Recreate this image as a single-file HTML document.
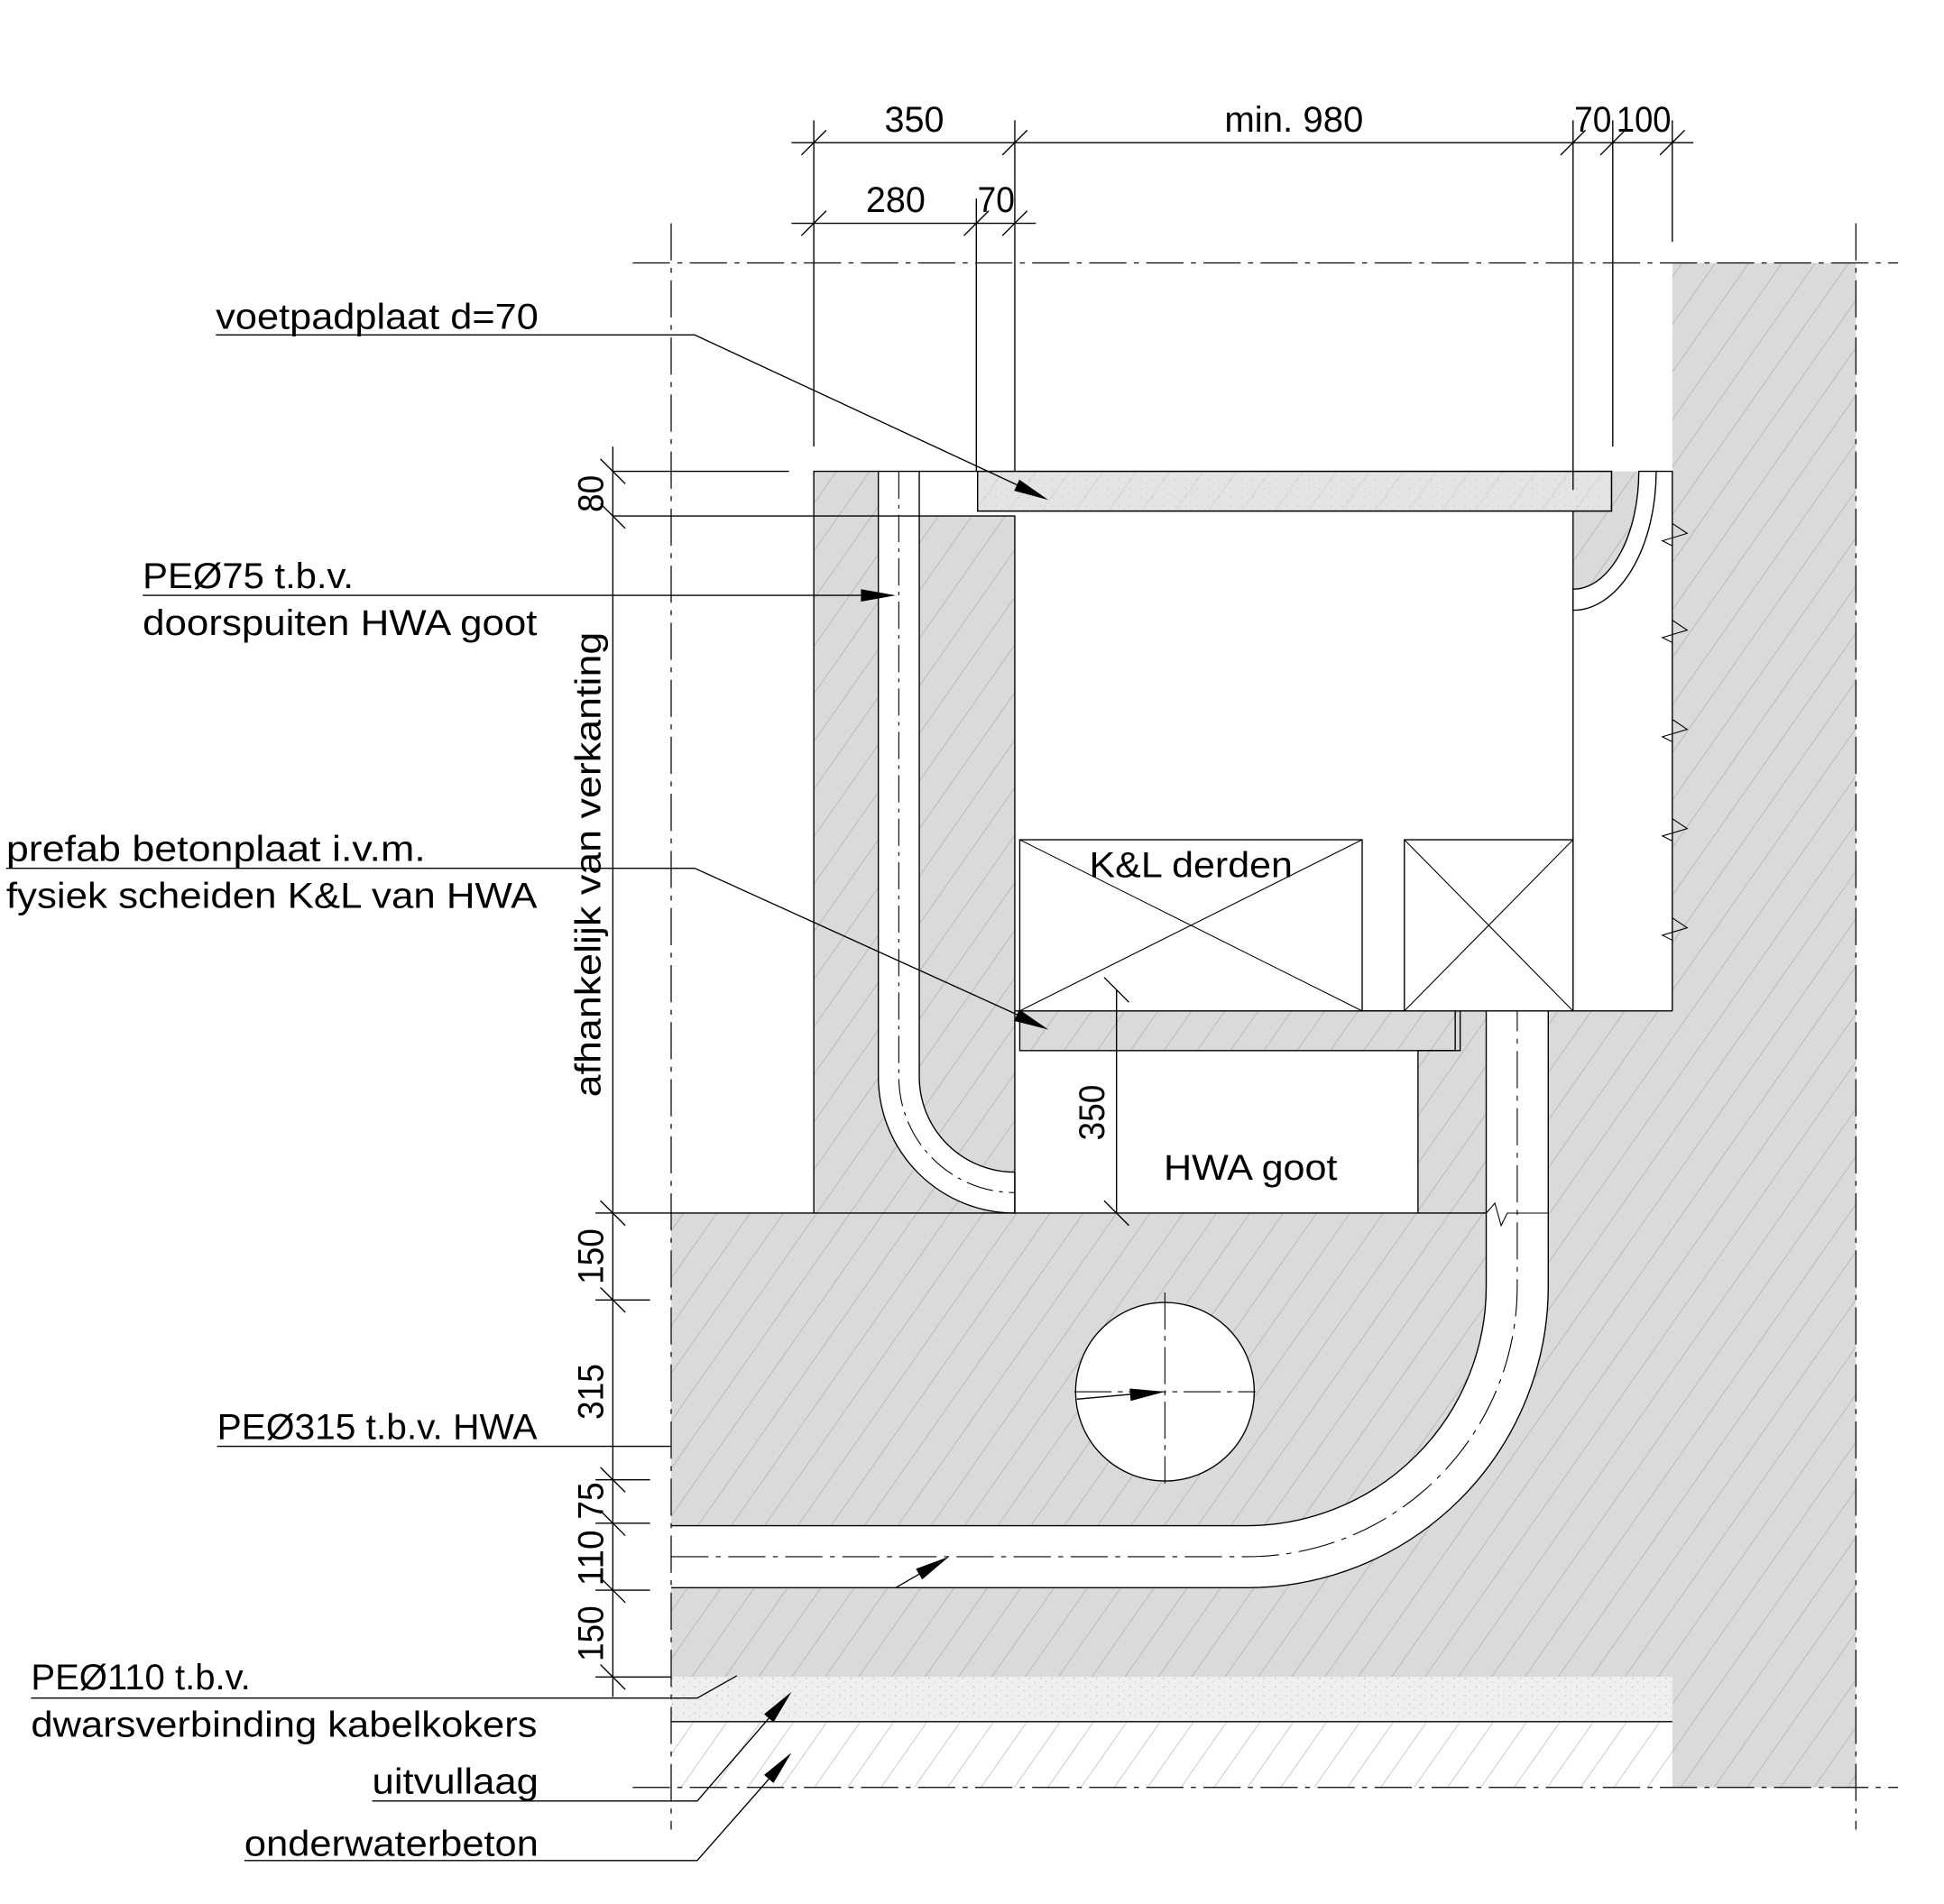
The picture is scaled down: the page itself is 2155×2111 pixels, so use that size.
<!DOCTYPE html>
<html><head><meta charset="utf-8"><style>
html,body{margin:0;padding:0;background:#fff;}
svg{display:block;}
text{font-family:"Liberation Sans Narrow","Liberation Sans",sans-serif;fill:#000;}
</style></head><body>
<svg width="2155" height="2111" viewBox="0 0 1567 1535" preserveAspectRatio="none" xmlns="http://www.w3.org/2000/svg">
<defs>
<pattern id="h" patternUnits="userSpaceOnUse" width="22" height="22" patternTransform="rotate(35)">
<rect width="22" height="22" fill="#dadada"/>
<line x1="0" y1="0" x2="0" y2="22" stroke="#a9a9a9" stroke-width="1"/>
</pattern>
<pattern id="hw" patternUnits="userSpaceOnUse" width="22" height="22" patternTransform="rotate(35)">
<rect width="22" height="22" fill="#fff"/>
<line x1="0" y1="0" x2="0" y2="22" stroke="#b5b5b5" stroke-width="1"/>
</pattern>
<pattern id="dt" patternUnits="userSpaceOnUse" width="9" height="7">
<rect width="9" height="7" fill="#efefef"/>
<circle cx="2" cy="2" r="0.6" fill="#bbb"/><circle cx="6" cy="5" r="0.5" fill="#ccc"/>
</pattern>
</defs>
<g stroke="#000" stroke-width="1" fill="none">
<rect x="1348" y="212" width="148" height="1229" fill="url(#h)" stroke="none"/>
<rect x="656" y="380" width="162" height="598" fill="url(#h)" stroke="none"/>
<rect x="741" y="380" width="77" height="36" fill="#fff" stroke="none"/>
<rect x="541" y="978" width="807" height="374" fill="url(#h)" stroke="none"/>
<rect x="1143" y="815" width="205" height="163" fill="url(#h)" stroke="none"/>
<path d="M1268,412 L1299,412 L1299,380 L1321,380 A53,95 0 0 1 1268,475 Z" fill="url(#h)" stroke="none"/>
<path d="M708,380 L708,868 A110,110 0 0 0 818,978 L818,945 A77,77 0 0 1 741,868 L741,380 Z" fill="#fff" stroke="#000"/>
<path d="M724.5,380 L724.5,868 A93.5,93.5 0 0 0 818,961.5" stroke-dasharray="22,5,3,5" stroke-width="0.8"/>
<path d="M1321,380 A53,95 0 0 1 1268,475 L1268,492 A67,112 0 0 0 1335,380 Z" fill="#fff" stroke="#000"/>
<path d="M541,1230 L1005,1230 A193,193 0 0 0 1198,1037 L1198,815 L1248,815 L1248,1037 A243,243 0 0 1 1005,1280 L541,1280 Z" fill="#fff" stroke="none"/>
<path d="M541,1230 L1005,1230 A193,193 0 0 0 1198,1037 L1198,815 M1248,815 L1248,1037 A243,243 0 0 1 1005,1280 L541,1280"/>
<path d="M541,1255 L1005,1255 A218,218 0 0 0 1223,1037 L1223,815" stroke-dasharray="30,6,4,6" stroke-width="0.8"/>
<circle cx="939" cy="1122" r="72" fill="#fff"/>
<line x1="939" y1="1042" x2="939" y2="1196" stroke-dasharray="30,5,4,5" stroke-width="0.8"/>
<line x1="866" y1="1122" x2="1012" y2="1122" stroke-dasharray="30,5,4,5" stroke-width="0.8"/>
<line x1="868" y1="1128" x2="912" y2="1124"/>
<polygon points="939,1122 911.4,1129.4 910.6,1119.4" fill="#000" stroke="none"/>
<rect x="788" y="380" width="511" height="32" fill="url(#dt)"/>
<rect x="788" y="380" width="511" height="32" fill="url(#h)" fill-opacity="0.5"/>
<rect x="822" y="815" width="351" height="32" fill="url(#h)"/>
<path d="M1173,815 L1177,815 L1177,847 L1143,847"/>
<path d="M656,978 L656,380 L708,380 M741,380 L788,380 M741,416 L818,416 L818,978 M1143,847 L1143,978 L1198,978 M541,978 L1143,978"/>
<path d="M1268,412 L1268,815 L1348,815 M1335,380 L1348,380 L1348,815 M818,815 L1143,815"/>
<path d="M1198,978 L1205,970 L1210,988 L1215,978 L1248,978" stroke-width="0.8"/>
<rect x="822" y="677" width="276" height="138" fill="#fff"/>
<path d="M822,677 L1098,815 M1098,677 L822,815" stroke-width="0.8"/>
<rect x="1132" y="677" width="136" height="138" fill="#fff"/>
<path d="M1132,677 L1268,815 M1268,677 L1132,815" stroke-width="0.8"/>
<rect x="541" y="1352" width="807" height="36" fill="url(#dt)" stroke="none"/>
<rect x="541" y="1388" width="807" height="53" fill="url(#hw)" stroke="none"/>
<line x1="541" y1="1388" x2="1348" y2="1388"/>
<g stroke-dasharray="30,6,4,6" stroke-width="0.9">
<line x1="510" y1="212" x2="1530" y2="212"/>
<line x1="510" y1="1441" x2="1530" y2="1441"/>
<line x1="541" y1="180" x2="541" y2="1475"/>
<line x1="1496" y1="180" x2="1496" y2="1475"/>
</g>
<g stroke-width="0.8">
<path d="M1348,422 L1360,430 L1340,436 L1348,440"/>
<path d="M1348,500 L1360,508 L1340,514 L1348,518"/>
<path d="M1348,580 L1360,588 L1340,594 L1348,598"/>
<path d="M1348,660 L1360,668 L1340,674 L1348,678"/>
<path d="M1348,740 L1360,748 L1340,754 L1348,758"/>
</g>
<line x1="638" y1="115" x2="1365" y2="115"/>
<line x1="638" y1="180" x2="835" y2="180"/>
<path d="M656,97 L656,360 M818,97 L818,380 M787,160 L787,380 M1268,97 L1268,395 M1300,97 L1300,360 M1348,97 L1348,195"/>
<path d="M646,125 L666,105 M808,125 L828,105 M1258,125 L1278,105 M1290,125 L1310,105 M1338,125 L1358,105 M646,190 L666,170 M777,190 L797,170 M808,190 L828,170"/>
<line x1="494" y1="360" x2="494" y2="1368"/>
<path d="M494,380 L636,380 M494,416 L741,416 M480,978 L541,978 M480,1048 L524,1048 M480,1193 L524,1193 M480,1228 L524,1228 M480,1282 L524,1282 M480,1352 L541,1352"/>
<path d="M484,370 L504,390 M484,406 L504,426 M484,968 L504,988 M484,1038 L504,1058 M484,1183 L504,1203 M484,1218 L504,1238 M484,1272 L504,1292 M484,1342 L504,1362"/>
<line x1="900" y1="798" x2="900" y2="978"/>
<path d="M890,788 L910,808 M890,968 L910,988"/>
<path d="M174,270 L560,270 L820,391"/>
<polygon points="845,403 817.5,395.7 821.7,386.7" fill="#000" stroke="none"/>
<path d="M115,480 L694,480"/>
<polygon points="722,480 694,475 694,485" fill="#000" stroke="none"/>
<path d="M5,700 L560,700 L820,818"/>
<polygon points="845,830 817.4,823 821.6,813.9" fill="#000" stroke="none"/>
<path d="M175,1166 L541,1166"/>
<path d="M722,1280 L741,1269"/>
<polygon points="765,1255 743.3,1273.4 738.3,1264.8" fill="#000" stroke="none"/>
<path d="M25,1369 L562,1369 L594,1351"/>
<path d="M300,1452 L562,1452 L620,1385"/>
<polygon points="638,1364 623.5,1388.5 615.9,1381.9" fill="#000" stroke="none"/>
<path d="M197,1500 L562,1500 L620,1434"/>
<polygon points="638,1413 623.5,1437.5 615.9,1430.9" fill="#000" stroke="none"/>
</g>
<g font-size="29">
<text x="737" y="106" text-anchor="middle" textLength="48" lengthAdjust="spacingAndGlyphs">350</text>
<text x="1043" y="106" text-anchor="middle" textLength="112" lengthAdjust="spacingAndGlyphs">min. 980</text>
<text x="1284" y="106" text-anchor="middle" textLength="30" lengthAdjust="spacingAndGlyphs">70</text>
<text x="1325" y="106" text-anchor="middle" textLength="44" lengthAdjust="spacingAndGlyphs">100</text>
<text x="722" y="171" text-anchor="middle" textLength="48" lengthAdjust="spacingAndGlyphs">280</text>
<text x="803" y="171" text-anchor="middle" textLength="30" lengthAdjust="spacingAndGlyphs">70</text>
<text x="174" y="265" textLength="260" lengthAdjust="spacingAndGlyphs">voetpadplaat d=70</text>
<text x="115" y="474" textLength="170" lengthAdjust="spacingAndGlyphs">PEØ75 t.b.v.</text>
<text x="115" y="512" textLength="318" lengthAdjust="spacingAndGlyphs">doorspuiten HWA goot</text>
<text x="5" y="694" textLength="338" lengthAdjust="spacingAndGlyphs">prefab betonplaat i.v.m.</text>
<text x="5" y="732" textLength="428" lengthAdjust="spacingAndGlyphs">fysiek scheiden K&amp;L van HWA</text>
<text x="175" y="1160" textLength="258" lengthAdjust="spacingAndGlyphs">PEØ315 t.b.v. HWA</text>
<text x="25" y="1362" textLength="177" lengthAdjust="spacingAndGlyphs">PEØ110 t.b.v.</text>
<text x="25" y="1400" textLength="408" lengthAdjust="spacingAndGlyphs">dwarsverbinding kabelkokers</text>
<text x="300" y="1446" textLength="134" lengthAdjust="spacingAndGlyphs">uitvullaag</text>
<text x="197" y="1496" textLength="237" lengthAdjust="spacingAndGlyphs">onderwaterbeton</text>
<text x="960" y="707" text-anchor="middle" textLength="164" lengthAdjust="spacingAndGlyphs">K&amp;L derden</text>
<text x="1008" y="951" text-anchor="middle" textLength="140" lengthAdjust="spacingAndGlyphs">HWA goot</text>
<text transform="translate(484,697) rotate(-90)" text-anchor="middle" textLength="375" lengthAdjust="spacingAndGlyphs">afhankelijk van verkanting</text>
<text transform="translate(486,398) rotate(-90)" text-anchor="middle" textLength="30" lengthAdjust="spacingAndGlyphs">80</text>
<text transform="translate(486,1013) rotate(-90)" text-anchor="middle" textLength="45" lengthAdjust="spacingAndGlyphs">150</text>
<text transform="translate(486,1122) rotate(-90)" text-anchor="middle" textLength="45" lengthAdjust="spacingAndGlyphs">315</text>
<text transform="translate(486,1210) rotate(-90)" text-anchor="middle" textLength="30" lengthAdjust="spacingAndGlyphs">75</text>
<text transform="translate(486,1256) rotate(-90)" text-anchor="middle" textLength="45" lengthAdjust="spacingAndGlyphs">110</text>
<text transform="translate(486,1317) rotate(-90)" text-anchor="middle" textLength="45" lengthAdjust="spacingAndGlyphs">150</text>
<text transform="translate(890,897) rotate(-90)" text-anchor="middle" textLength="45" lengthAdjust="spacingAndGlyphs">350</text>
</g>
</svg>
</body></html>
